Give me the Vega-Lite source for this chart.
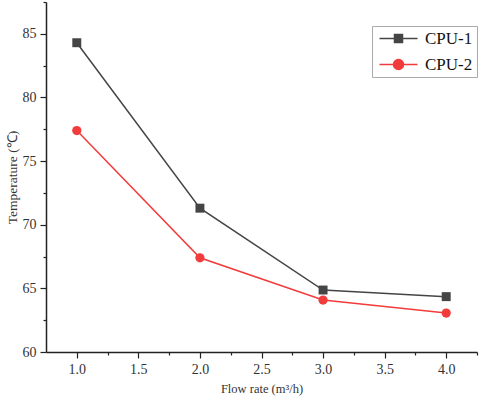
{
  "$schema": "https://vega.github.io/schema/vega-lite/v6.json",
  "width": 431,
  "height": 350,
  "autosize": {"type": "none"},
  "padding": {"left": 46, "top": 2, "right": 3, "bottom": 47},
  "background": "white",
  "config": {
    "view": {"stroke": null},
    "font": "Liberation Serif"
  },
  "data": {
    "values": [
      {"flow": 1.0, "temp": 84.3, "cpu": "CPU-1"},
      {"flow": 2.0, "temp": 71.3, "cpu": "CPU-1"},
      {"flow": 3.0, "temp": 64.87, "cpu": "CPU-1"},
      {"flow": 4.0, "temp": 64.35, "cpu": "CPU-1"},
      {"flow": 1.0, "temp": 77.4, "cpu": "CPU-2"},
      {"flow": 2.0, "temp": 67.4, "cpu": "CPU-2"},
      {"flow": 3.0, "temp": 64.08, "cpu": "CPU-2"},
      {"flow": 4.0, "temp": 63.06, "cpu": "CPU-2"}
    ]
  },
  "encoding": {
    "x": {
      "field": "flow", "type": "quantitative",
      "scale": {"domain": [0.75, 4.25], "nice": false, "zero": false},
      "axis": {
        "title": "Flow rate (m³/h)",
        "values": [1, 1.25, 1.5, 1.75, 2, 2.25, 2.5, 2.75, 3, 3.25, 3.5, 3.75, 4, 4.25],
        "labelExpr": "(datum.value * 2) % 1 === 0 ? format(datum.value, '.1f') : ''",
        "tickSize": {"condition": {"test": "(datum.value * 2) % 1 === 0", "value": 6}, "value": 3},
        "grid": false,
        "domainColor": "#222222", "domainWidth": 1.5,
        "tickColor": "#222222", "tickWidth": 1.2,
        "labelFont": "Liberation Serif", "labelFontSize": 14, "labelColor": "#333333", "labelPadding": 4,
        "titleFont": "Liberation Serif", "titleFontSize": 12.5, "titleFontWeight": "normal", "titleColor": "#333333", "titlePadding": 6
      }
    },
    "y": {
      "field": "temp", "type": "quantitative",
      "scale": {"domain": [60, 87.5], "nice": false, "zero": false},
      "axis": {
        "title": "Temperature (℃)",
        "values": [60, 62.5, 65, 67.5, 70, 72.5, 75, 77.5, 80, 82.5, 85, 87.5],
        "labelExpr": "datum.value % 5 === 0 ? format(datum.value, 'd') : ''",
        "tickSize": {"condition": {"test": "datum.value % 5 === 0", "value": 6}, "value": 3},
        "grid": false,
        "domainColor": "#222222", "domainWidth": 1.5,
        "tickColor": "#222222", "tickWidth": 1.2,
        "labelFont": "Liberation Serif", "labelFontSize": 14, "labelColor": "#333333", "labelPadding": 4,
        "titleFont": "Liberation Serif", "titleFontSize": 13.5, "titleFontWeight": "normal", "titleColor": "#333333", "titlePadding": 3
      }
    },
    "color": {
      "field": "cpu", "type": "nominal",
      "scale": {"domain": ["CPU-1", "CPU-2"], "range": ["#454545", "#f23b3b"]},
      "legend": {
        "title": null,
        "orient": "none",
        "legendX": 326,
        "legendY": 24,
        "strokeColor": "#aaaaaa",
        "padding": 4,
        "labelFont": "Liberation Serif",
        "labelFontSize": 17,
        "labelColor": "#111111",
        "symbolSize": 100,
        "symbolStrokeWidth": 1.5,
        "rowPadding": 8,
        "labelOffset": 32,
        "encode": {
          "symbols": {
            "update": {
              "shape": {"signal": "datum.value === 'CPU-1' ? 'M-1,0H6.6M2,-0.8H3.6V0.8H2Z' : 'M-1,0H6.6M3.8,0A1,1 0 1,1 1.8,0A1,1 0 1,1 3.8,0Z'"},
              "fill": {"signal": "datum.value === 'CPU-1' ? '#454545' : '#f23b3b'"},
              "stroke": {"signal": "datum.value === 'CPU-1' ? '#454545' : '#f23b3b'"}
            }
          }
        }
      }
    }
  },
  "layer": [
    {
      "mark": {"type": "line", "strokeWidth": 1.5}
    },
    {
      "transform": [{"filter": "datum.cpu === 'CPU-1'"}],
      "mark": {"type": "point", "shape": "square", "filled": true, "opacity": 1, "size": 80}
    },
    {
      "transform": [{"filter": "datum.cpu === 'CPU-2'"}],
      "mark": {"type": "point", "shape": "circle", "filled": true, "opacity": 1, "size": 85}
    }
  ]
}
